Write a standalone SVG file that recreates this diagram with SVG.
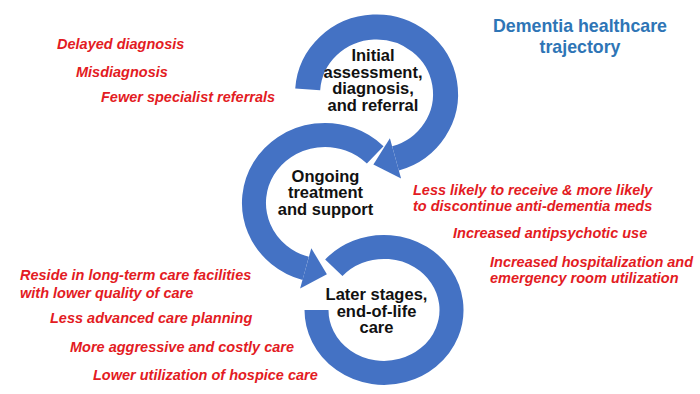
<svg xmlns="http://www.w3.org/2000/svg" width="700" height="394" viewBox="0 0 700 394">
<style>
.ring{fill:none;stroke:#4472c4;stroke-width:24;stroke-linecap:butt}
.head{fill:#4472c4}
.node{font-family:"Liberation Sans",Arial,sans-serif;font-weight:bold;font-size:16.5px;fill:#111;text-anchor:middle}
.red{font-family:"Liberation Sans",Arial,sans-serif;font-weight:bold;font-style:italic;font-size:14.5px;fill:#e31b23}
.title{font-family:"Liberation Sans",Arial,sans-serif;font-weight:bold;font-size:17.8px;fill:#2e75b6;text-anchor:middle}
</style>
<rect width="700" height="394" fill="#fff"/>
<g id="connectors">
  <path class="ring" style="stroke-width:25" d="M 307.7 89.3 A 69 67 0 1 1 395.5 158.4"/>
  <polygon class="head" points="389.9,138.2 401.1,178.6 373.4,164.6"/>
  <path class="ring" d="M 375.2 154.9 A 71 68 0 1 0 305.7 268.4"/>
  <polygon class="head" points="311.3,248.2 300.1,288.6 326.9,274.3"/>
  <path class="ring" d="M 333.8 267.8 A 67.5 63 0 1 1 316.5 310"/>
</g>
<g id="node-initial">
  <text class="node" x="373" y="61">Initial</text>
  <text class="node" x="373" y="77.5">assessment,</text>
  <text class="node" x="373" y="94">diagnosis,</text>
  <text class="node" x="373" y="110.5">and referral</text>
</g>
<g id="node-ongoing">
  <text class="node" x="325.5" y="181.5">Ongoing</text>
  <text class="node" x="325.5" y="198">treatment</text>
  <text class="node" x="325.5" y="214.5">and support</text>
</g>
<g id="node-later">
  <text class="node" x="376.5" y="300">Later stages,</text>
  <text class="node" x="376.5" y="316.5">end-of-life</text>
  <text class="node" x="376.5" y="333">care</text>
</g>
<g id="title">
  <text class="title" x="580" y="32">Dementia healthcare</text>
  <text class="title" x="580" y="53">trajectory</text>
</g>
<g id="annotations">
  <text class="red" x="57" y="49">Delayed diagnosis</text>
  <text class="red" x="76" y="77">Misdiagnosis</text>
  <text class="red" x="101" y="102">Fewer specialist referrals</text>
  <text class="red" x="413" y="195">Less likely to receive &amp; more likely</text>
  <text class="red" x="413" y="210.5">to discontinue anti-dementia meds</text>
  <text class="red" x="453" y="238">Increased antipsychotic use</text>
  <text class="red" x="490" y="267">Increased hospitalization and</text>
  <text class="red" x="490" y="283">emergency room utilization</text>
  <text class="red" x="20" y="280">Reside in long-term care facilities</text>
  <text class="red" x="20" y="297.5">with lower quality of care</text>
  <text class="red" x="50" y="323">Less advanced care planning</text>
  <text class="red" x="70" y="352">More aggressive and costly care</text>
  <text class="red" x="93" y="380">Lower utilization of hospice care</text>
</g>
</svg>
